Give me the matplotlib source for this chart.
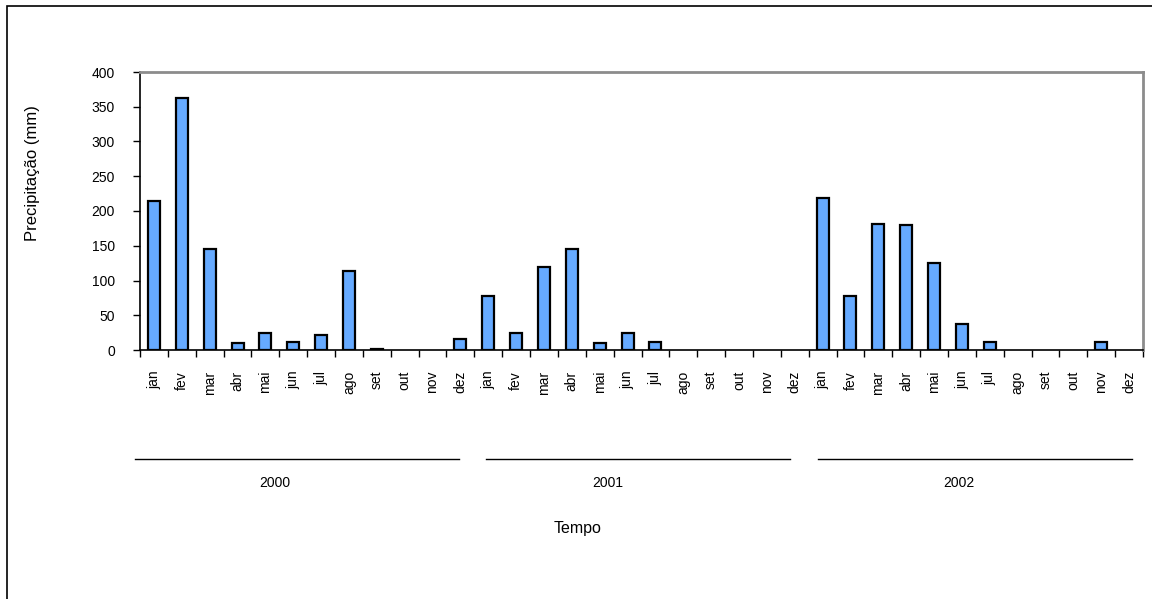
import numpy as np
import matplotlib
matplotlib.use('Agg')
import matplotlib.pyplot as plt
import matplotlib.transforms as mtransforms
from matplotlib.patches import Rectangle

plt.rcParams['font.family'] = ['Liberation Sans', 'DejaVu Sans']

# Monthly precipitation (mm), 2000-2002
months = ['jan', 'fev', 'mar', 'abr', 'mai', 'jun',
          'jul', 'ago', 'set', 'out', 'nov', 'dez']
years = ['2000', '2001', '2002']
rain_2000 = [215, 362, 145, 10, 24, 12, 22, 113, 2, 0, 0, 16]
rain_2001 = [77, 24, 119, 145, 10, 24, 12, 0, 0, 0, 0, 0]
rain_2002 = [218, 77, 181, 180, 125, 38, 12, 0, 0, 0, 12, 0]

values = np.array(rain_2000 + rain_2001 + rain_2002)
labels = months * len(years)
x = np.arange(len(values))

# year bracket layout (in category units), as drawn in the original sheet
bracket_start = [-0.68, 11.92, 23.84]
bracket_end = [10.95, 22.83, 35.1]
year_label_x = [4.35, 16.3, 28.9]

fig = plt.figure(figsize=(11.52, 5.99), dpi=100)

# outer chart-area border (left and top visible)
fig.patches.append(Rectangle((7 / 1152, -0.01), 1.2, 1 - 6 / 599 + 0.01,
                             transform=fig.transFigure, fill=False,
                             edgecolor='black', linewidth=1.2))

ax = fig.add_axes([140 / 1152, 1 - 350 / 599, 1003 / 1152, 278 / 599])

nz = values > 0
ax.bar(x[nz], values[nz], width=0.43, color='#66AAFF', edgecolor='black',
       linewidth=1.6, zorder=3)

ax.set_xlim(-0.5, len(values) - 0.5)
ax.set_ylim(0, 400)
ax.set_yticks(np.arange(0, 401, 50))

# tick marks at category boundaries, labels at centres
ax.set_xticks(np.arange(-0.5, len(values)), minor=False)
ax.set_xticklabels([])
ax.set_xticks(x, minor=True)
ax.set_xticklabels(labels, minor=True, rotation=90, fontsize=10)
ax.tick_params(axis='x', which='major', direction='out', length=5, width=1)
ax.tick_params(axis='x', which='minor', length=0, pad=15)
ax.tick_params(axis='y', direction='out', length=5, width=1, labelsize=10, pad=13)

for side in ['top', 'right']:
    ax.spines[side].set_color('#8c8c8c')
    ax.spines[side].set_linewidth(2)
ax.spines['left'].set_color('black')
ax.spines['bottom'].set_color('black')
ax.spines['left'].set_linewidth(1.2)
ax.spines['bottom'].set_linewidth(1.2)

fig.text(33 / 1152, 1 - 173 / 599, 'Precipitação (mm)', rotation=90,
         ha='center', va='center', fontsize=12)

# year brackets below the month labels
trans = mtransforms.blended_transform_factory(ax.transData, ax.transAxes)
for yr, s, e, tx in zip(years, bracket_start, bracket_end, year_label_x):
    ax.plot([s, e], [-0.392, -0.392], color='black', linewidth=1,
            transform=trans, clip_on=False)
    ax.text(tx, -0.478, yr, transform=trans, ha='center', va='center',
            fontsize=10)

fig.text(578 / 1152, 1 - 528 / 599, 'Tempo', ha='center', va='center', fontsize=11.5)

fig.savefig('out.png', dpi=100)
